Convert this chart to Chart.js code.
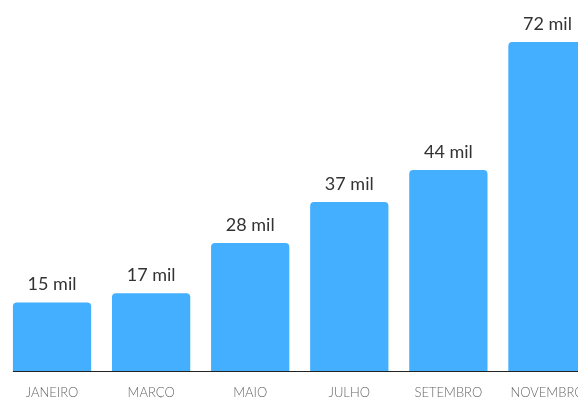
<!DOCTYPE html>
<html>
<head>
<meta charset="utf-8">
<script src="https://cdn.jsdelivr.net/npm/chart.js@4"></script>
<style>
  html, body { margin: 0; padding: 0; background: #fff; overflow: hidden; }
  #wrap { position: relative; width: 600px; height: 398px; }
</style>
</head>
<body>
<div id="wrap"><canvas id="salesChart"></canvas></div>
<script>
const months = ["JANEIRO", "MARÇO", "MAIO", "JULHO", "SETEMBRO", "NOVEMBRO"];
const values = [15, 17, 28, 37, 44, 72];
const unitSuffix = " mil";

// value labels above each bar + baseline starting at the first bar
const barLabels = {
  id: "barLabels",
  afterDatasetsDraw(chart) {
    const { ctx, chartArea } = chart;
    const meta = chart.getDatasetMeta(0);
    const y0 = chart.scales.y.getPixelForValue(0);

    ctx.save();
    const first = meta.data[0];
    ctx.strokeStyle = "#222";
    ctx.lineWidth = 1;
    ctx.beginPath();
    ctx.moveTo(first.x - first.width / 2, Math.round(y0) + 0.5);
    ctx.lineTo(chartArea.right + 10, Math.round(y0) + 0.5);
    ctx.stroke();

    ctx.fillStyle = "#333";
    ctx.font = "18px Lato, 'Open Sans', sans-serif";
    ctx.textAlign = "center";
    ctx.textBaseline = "bottom";
    meta.data.forEach((bar, i) => {
      ctx.fillText(values[i] + unitSuffix, bar.x, bar.y - 9);
    });
    ctx.restore();
  }
};

const ctx = document.getElementById("salesChart").getContext("2d");

new Chart(ctx, {
  type: "bar",
  data: {
    labels: months,
    datasets: [
      {
        data: values,
        backgroundColor: "#44aeff",
        borderRadius: { topLeft: 4, topRight: 4 },
        borderSkipped: "bottom",
        categoryPercentage: 1,
        barPercentage: 0.79,
      },
    ],
  },
  options: {
    responsive: true,
    maintainAspectRatio: false,
    animation: false,
    layout: { padding: { left: 2.5, right: 3, top: 5.5, bottom: 0 } },
    plugins: {
      legend: { display: false },
      tooltip: { enabled: false },
    },
    scales: {
      x: {
        grid: { display: false, drawTicks: false },
        border: { display: false },
        afterFit: (scale) => { scale.height = 27; },
        ticks: {
          color: "#666",
          padding: 14,
          font: { family: "Lato", size: 13, weight: 300 },
          maxRotation: 0,
          autoSkip: false,
        },
      },
      y: {
        display: false,
        min: 0,
        max: 80,
      },
    },
  },
  plugins: [barLabels],
});
</script>
</body>
</html>
